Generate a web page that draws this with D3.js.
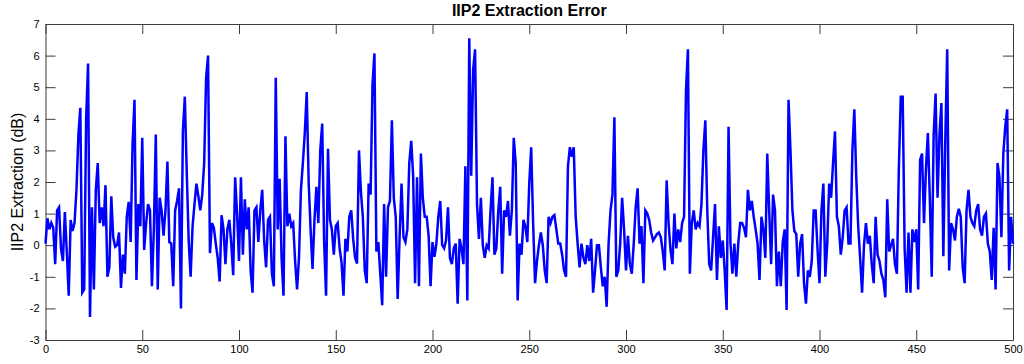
<!DOCTYPE html>
<html><head><meta charset="utf-8">
<script src="https://cdn.jsdelivr.net/npm/d3@7"></script>
<style>
body{margin:0;background:#fff}
svg{display:block}
text{font-family:Arial,"Liberation Sans",Helvetica,sans-serif}
</style>
</head><body>
<svg id="chart" width="1024" height="364"></svg>
<script>
const chartTitle = "IIP2 Extraction Error";
const yAxisLabel = "IIP2 Extraction (dB)";
const xTickValues = [0, 50, 100, 150, 200, 250, 300, 350, 400, 450, 500];
const yTickValues = [-3, -2, -1, 0, 1, 2, 3, 4, 5, 6, 7];
const sampleStart = 0;
const sampleStep = 1;
const errorDb = [
 0.05, 0.85, 0.5, 0.7, 0.55, -0.6, 1.1, 1.2, -0.1, -0.5,
 1.05, -0.2, -1.6, 0.8, 0.45, 0.7, 1.75, 3.5, 4.35, -1.5,
 -1.4, 4.0, 5.75, -2.27, 1.2, -1.4, 1.75, 2.6, 0.7, 1.2,
 0.6, 1.9, -1.0, -0.7, 1.55, 0.25, -0.05, 0.0, 0.4, -1.35,
 -0.3, -0.9, 0.9, 1.37, 0.1, 3.2, 4.6, -1.1, 1.3, 0.6,
 3.4, -0.15, 0.7, 1.3, 1.1, -1.3, 0.5, 3.5, -1.4, 1.5,
 1.1, 0.3, 1.1, 2.65, 0.1, 0.05, -1.3, 1.1, 1.4, 1.8,
 -2.0, 3.6, 4.7, 2.3, 0.15, -1.0, 0.6, 1.3, 1.95, 1.55,
 1.1, 1.6, 2.6, 5.3, 6.0, -0.25, 0.7, 0.55, 0.05, -0.4,
 -1.15, 0.95, 0.5, -0.6, 0.5, 0.8, 0.05, -0.95, 2.15, 1.0,
 -0.5, 2.15, -0.3, 1.45, 0.5, 1.2, -0.8, -1.5, 1.1, 1.2,
 0.1, 1.1, 1.75, 0.15, -0.7, 0.8, 0.9, -0.9, -1.3, 5.3,
 0.5, 2.1, -0.4, -1.6, 3.45, 0.6, 1.0, 0.6, 0.7, -0.5,
 -1.4, -0.4, 1.75, 2.6, 3.55, 4.85, 2.0, 0.5, -0.75, 0.8,
 1.85, 0.7, 3.0, 3.85, 0.1, -1.6, 3.05, 0.8, 0.5, -0.3,
 0.6, 0.7, -0.1, -0.55, -1.6, 0.2, -0.2, 0.9, 1.1, 0.2,
 -0.4, -0.58, 3.0, 1.7, 0.9, -0.8, -1.2, 1.95, 1.6, 5.1,
 6.07, -0.2, 0.1, -0.9, -1.9, 1.3, -1.0, 1.2, 1.4, 3.95,
 1.5, 0.9, -1.7, 0.25, 1.95, 0.25, 0.1, 0.5, 2.6, 3.3,
 2.2, -1.2, 2.15, -1.3, 2.9, 1.5, 0.9, 0.9, 0.3, -1.3,
 0.1, -0.37, 0.05, 0.9, 1.4, 0.0, -0.1, 0.15, 1.2, -0.4,
 -0.6, -0.1, 0.05, -1.85, 0.2, -0.1, -0.6, 2.5, -1.75, 6.55,
 2.2, 5.55, 6.2, 1.3, 0.2, 1.5, 0.0, -0.4, 0.0, -0.1,
 1.1, 2.15, -0.3, -0.1, 1.1, 1.85, -0.9, 1.1, 0.9, 1.4,
 0.3, 1.1, 3.4, 2.6, -1.75, 0.05, -0.3, 0.8, 0.6, 0.1,
 1.95, 3.1, 0.7, -1.2, -0.5, 0.0, 0.4, 0.0, -0.8, -1.2,
 0.9, 0.7, 0.9, 0.95, 0.5, 0.05, 0.05, -0.3, -0.8, -1.0,
 2.5, 3.1, 2.8, 3.1, 0.9, 0.05, -0.7, 0.05, -0.4, -0.6,
 0.0, -0.5, 0.2, -1.5, -0.8, 0.0, 0.0, -0.7, -1.3, -1.0,
 -1.95, 0.05, 1.1, 1.6, 4.05, -1.0, -0.8, 0.05, 1.5, 0.5,
 -0.8, 0.3, -0.6, -0.9, 0.05, 1.2, 1.8, 0.05, 0.6, -1.2,
 1.1, 1.0, 0.8, 0.4, 0.15, 0.25, 0.35, 0.4, 0.25, -0.2,
 -0.8, 2.05, 0.7, -0.15, -0.6, 1.0, -0.1, 0.5, 0.1, 0.7,
 0.9, 4.9, 6.2, -0.9, 0.7, 1.1, 0.5, 0.7, 0.6, 1.3,
 3.0, 3.95, 1.1, -0.6, -0.8, 0.25, 1.3, -1.1, 0.6, -0.4,
 0.15, -0.8, -2.05, 3.75, 0.05, -0.9, 0.05, -1.0, 0.05, 0.7,
 0.7, 0.55, 0.25, 1.75, 1.1, 1.4, 0.9, 0.5, 0.05, -1.1,
 0.9, 0.5, -0.4, 2.9, 1.1, -0.6, 1.6, 1.1, -1.3, -0.2,
 -1.3, 0.1, 0.5, -2.05, 4.6, 3.0, 1.1, 0.45, 0.35, -1.0,
 0.05, 0.35, -1.2, -1.85, -0.8, -1.0, -0.5, 1.1, 1.1, -0.15,
 -1.2, 1.1, 1.95, -1.0, 0.05, 1.95, 1.5, 2.6, 3.6, 0.9,
 0.6, -0.3, 0.25, 1.1, 1.2, 0.05, 0.05, 3.0, 4.3, 2.15,
 0.6, -0.4, -1.5, 0.0, 0.7, 0.05, 0.3, -0.6, -1.2, 0.9,
 -0.3, -0.5, -0.9, -1.1, -1.65, 1.45, -0.2, 0.0, 0.2, -0.6,
 -0.9, 2.4, 4.7, 4.7, -0.1, -1.5, 0.4, -1.5, 0.5, 0.1,
 0.5, -1.4, 2.7, 2.9, 0.7, 2.4, 3.55, 1.5, -1.0, 3.5,
 4.8, 1.5, 3.5, 4.5, -0.35, 3.3, 6.2, -0.8, 0.7, 0.5,
 0.15, 0.9, 1.15, 0.9, -0.7, -1.2, 1.1, 1.75, 0.9, 0.7,
 0.6, 1.1, 1.3, 0.5, 0.3, 0.9, 1.0, 0.05, -0.2, -1.1,
 0.55, -1.4, 2.6, 2.15, 0.25, 2.9, 3.75, 4.3, -0.8, 0.9,
 0.05
];

const svg = d3.select("#chart");
const plotLeft = 45.5, plotRight = 1013, plotTop = 24, plotBottom = 340;
const x = d3.scaleLinear().domain([0, 500]).range([plotLeft, plotRight]);
const y = d3.scaleLinear().domain([-3, 7]).range([plotBottom, plotTop]);
const axisColor = "#3c3c3c";
const fmt = d => String(d);

function styleAxis(g) {
  g.selectAll(".domain").attr("stroke", axisColor).attr("stroke-width", 1);
  g.selectAll(".tick line").attr("stroke", axisColor).attr("stroke-width", 1);
  g.selectAll(".tick text").attr("fill", "#000").style("font-size", "11px");
}

svg.append("g").attr("transform", `translate(0,${plotBottom})`)
  .call(d3.axisBottom(x).tickValues(xTickValues).tickFormat(fmt).tickSizeInner(-10).tickSizeOuter(0).tickPadding(5))
  .call(styleAxis);
svg.append("g").attr("transform", `translate(0,${plotTop})`)
  .call(d3.axisTop(x).tickValues(xTickValues).tickFormat("").tickSizeInner(-10).tickSizeOuter(0))
  .call(styleAxis);
svg.append("g").attr("transform", `translate(${plotLeft},0)`)
  .call(d3.axisLeft(y).tickValues(yTickValues).tickFormat(fmt).tickSizeInner(-10).tickSizeOuter(0).tickPadding(6))
  .call(styleAxis);
svg.append("g").attr("transform", `translate(${plotRight},0)`)
  .call(d3.axisRight(y).tickValues(yTickValues).tickFormat("").tickSizeInner(-10).tickSizeOuter(0))
  .call(styleAxis);

const line = d3.line()
  .x((d, i) => x(sampleStart + i * sampleStep))
  .y(d => y(d));

svg.append("path")
  .datum(errorDb)
  .attr("fill", "none")
  .attr("stroke", "#0000ff")
  .attr("stroke-width", 2.5)
  .attr("stroke-linejoin", "miter")
  .attr("d", line);

svg.append("text")
  .attr("x", (plotLeft + plotRight) / 2)
  .attr("y", 16)
  .attr("text-anchor", "middle")
  .style("font-size", "16px")
  .style("font-weight", "bold")
  .text(chartTitle);

svg.append("text")
  .attr("transform", `translate(23,${(plotTop + plotBottom) / 2}) rotate(-90)`)
  .attr("text-anchor", "middle")
  .style("font-size", "16px")
  .text(yAxisLabel);
</script>
</body></html>
